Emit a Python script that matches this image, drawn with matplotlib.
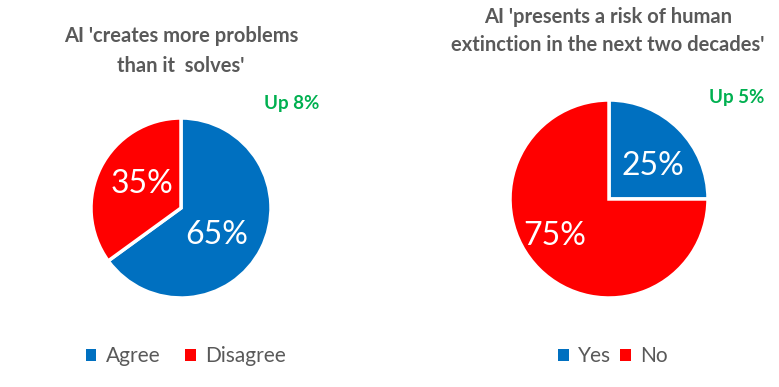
import matplotlib.pyplot as plt
from matplotlib.patches import Patch

plt.rcParams['font.family'] = ['Lato', 'DejaVu Sans']

# data
left_labels = ['Agree', 'Disagree']
left_values = [65, 35]
left_title = "AI 'creates more problems\nthan it  solves'"
left_note = 'Up 8%'

right_labels = ['Yes', 'No']
right_values = [25, 75]
right_title = "AI 'presents a risk of human\nextinction in the next two decades'"
right_note = 'Up 5%'

blue = '#0070C0'
red = '#FF0000'
green = '#00B050'
gray = '#595959'

W, H = 779, 387
fig = plt.figure(figsize=(W / 100, H / 100), dpi=100)


def pie_axes(cx, cy, r):
    # pixel centre/radius -> figure axes
    return fig.add_axes([(cx - r) / W, (H - cy - r) / H, 2 * r / W, 2 * r / H])


def draw_pie(ax, values):
    wedges, texts, autotexts = ax.pie(
        values, colors=[blue, red], startangle=90, counterclock=False,
        autopct='%d%%', pctdistance=0.55, radius=1,
        wedgeprops={'edgecolor': 'white', 'linewidth': 2.5},
        textprops={'color': 'white', 'fontsize': 23})
    ax.set_xlim(-1, 1)
    ax.set_ylim(-1, 1)
    ax.set_aspect('equal')
    ax.axis('off')
    return autotexts


ax1 = pie_axes(181, 208, 90)
t1 = draw_pie(ax1, left_values)
t1[0].set_position((0.40, -0.30))
t1[1].set_position((-0.43, 0.27))

ax2 = pie_axes(609, 199, 99)
t2 = draw_pie(ax2, right_values)
t2[0].set_position((0.44, 0.33))
t2[1].set_position((-0.55, -0.37))

# titles
fig.text(181 / W, 1 - 51 / H, left_title, ha='center', va='center',
         fontsize=14.5, fontweight='bold', color=gray, linespacing=1.6)
fig.text(608 / W, 1 - 31 / H, right_title, ha='center', va='center',
         fontsize=14.5, fontweight='bold', color=gray, linespacing=1.5)

fig.text(292 / W, 1 - 103 / H, left_note, ha='center', va='center',
         fontsize=13.5, fontweight='bold', color=green)
fig.text(737 / W, 1 - 97 / H, right_note, ha='center', va='center',
         fontsize=13.5, fontweight='bold', color=green)

# legends
for labels, cx, gap in [(left_labels, 186, 1.2), (right_labels, 613, 0.45)]:
    handles = [Patch(facecolor=blue), Patch(facecolor=red)]
    fig.legend(handles, labels, loc='center', bbox_to_anchor=(cx / W, 1 - 356 / H),
               ncol=2, frameon=False, fontsize=15, labelcolor=gray,
               handlelength=0.5, handleheight=0.5, handletextpad=0.45,
               columnspacing=gap)

plt.savefig('out.png', dpi=100)
